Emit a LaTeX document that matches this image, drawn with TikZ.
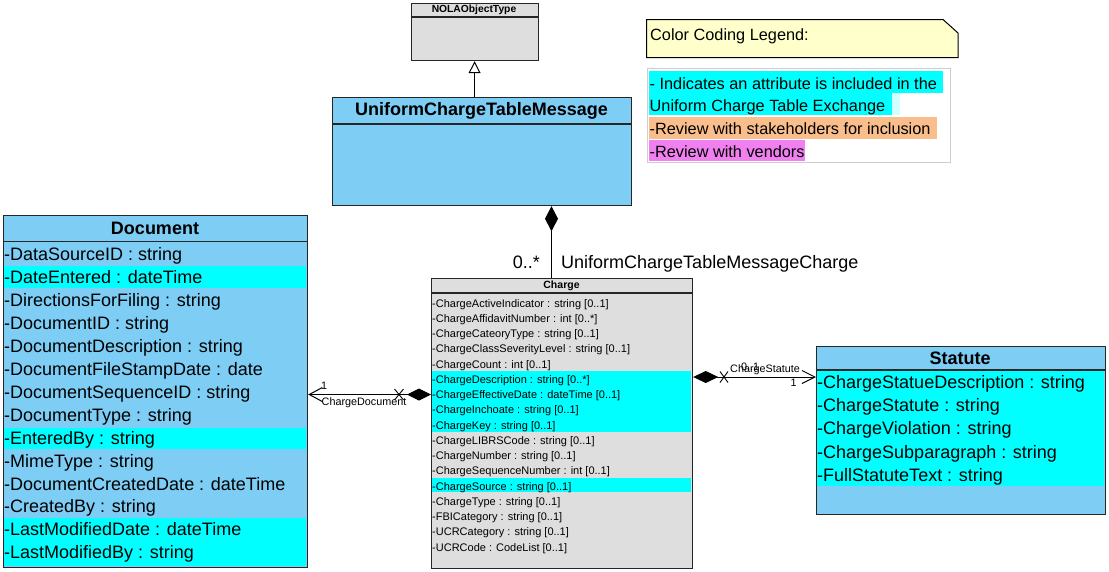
\documentclass[tikz,border=0pt]{standalone}
\usepackage{fontspec}
\setmainfont{Liberation Sans}
\usetikzlibrary{arrows.meta}
\definecolor{umlblue}{RGB}{125,205,245}
\definecolor{umlcyan}{RGB}{0,255,255}
\definecolor{umlgrey}{RGB}{222,222,222}
\definecolor{notey}{RGB}{255,255,204}
\definecolor{revorange}{RGB}{250,190,140}
\definecolor{revviolet}{RGB}{240,128,240}
\definecolor{palecyan}{RGB}{210,255,255}
\definecolor{legborder}{RGB}{205,205,205}
\begin{document}
\begin{tikzpicture}[x=1pt,y=-1pt,
  classbox/.style={draw=black!85, line width=1.2pt, inner sep=0pt, anchor=north west},
  big/.style={font=\fontsize{18}{20}\selectfont, inner sep=0pt, anchor=base west},
  bigb/.style={font=\fontsize{18}{20}\selectfont\bfseries, inner sep=0pt},
  smallrow/.style={font=\fontsize{11}{12}\selectfont, inner sep=0pt, anchor=base west},
  lab/.style={font=\fontsize{10.8}{12}\selectfont, inner sep=0pt, anchor=base west},
  leg/.style={font=\fontsize{16.3}{18}\selectfont, inner sep=0pt, anchor=base west},
  conn/.style={line width=1pt, draw=black},
  hdr/.style={line width=1.2pt, draw=black!85}
]
\useasboundingbox (0,0) rectangle (1109,571);
\fill[white] (0,0) rectangle (1109,571);

% ---------- NOLAObjectType ----------
\node[classbox, fill=umlgrey, minimum width=127pt, minimum height=57.5pt] (nola) at (410.5,2.5) {};
\draw[hdr] (nola.north west) ++(0,14.5) -- +(127,0);
\node[font=\fontsize{10.3}{12}\selectfont\bfseries, inner sep=0pt] (nolat) at (474,10) {NOLAObjectType};

% ---------- UniformChargeTableMessage ----------
\node[classbox, fill=umlblue, minimum width=299pt, minimum height=108pt] (uctm) at (332,97) {};
\draw[hdr] (uctm.north west) ++(0,27) -- +(299,0);
\node[bigb] (uctmt) at (481.5,110.5) {UniformChargeTableMessage};

% ---------- Document ----------
\node[classbox, fill=umlblue, minimum width=304pt, minimum height=352pt] (doc) at (3,214.5) {};
\fill[umlcyan] (3.6,265.5) rectangle (306.4,287.5);
\fill[umlcyan] (3.6,427.5) rectangle (306.4,449);
\fill[umlcyan] (3.6,518) rectangle (306.4,566);
\draw[hdr] (doc.north west) ++(0,27) -- +(304,0);
\node[bigb] (doct) at (155,228) {Document};
\foreach \t [count=\i from 0] in {{-DataSourceID : string},{-DateEntered : dateTime},{-DirectionsForFiling : string},{-DocumentID : string},{-DocumentDescription : string},{-DocumentFileStampDate : date},{-DocumentSequenceID : string},{-DocumentType : string},{-EnteredBy : string},{-MimeType : string},{-DocumentCreatedDate : dateTime},{-CreatedBy : string},{-LastModifiedDate : dateTime},{-LastModifiedBy : string}}
  \node[big] (doc-r\i) at (4,{260.5+\i*22.95}) {\t};

% ---------- Charge ----------
\node[classbox, fill=umlgrey, minimum width=261pt, minimum height=290pt] (chg) at (431,278) {};
\fill[umlcyan] (431.6,370.5) rectangle (691.4,431.5);
\fill[umlcyan] (431.6,477.5) rectangle (691.4,491.5);
\draw[hdr] (chg.north west) ++(0,15) -- +(261,0);
\node[font=\fontsize{10.5}{12}\selectfont\bfseries, inner sep=0pt] (chgt) at (561.5,285.5) {Charge};
\foreach \t [count=\i from 0] in {{-ChargeActiveIndicator : string [0..1]},{-ChargeAffidavitNumber : int [0..*]},{-ChargeCateoryType : string [0..1]},{-ChargeClassSeverityLevel : string [0..1]},{-ChargeCount : int [0..1]},{-ChargeDescription : string [0..*]},{-ChargeEffectiveDate : dateTime [0..1]},{-ChargeInchoate : string [0..1]},{-ChargeKey : string [0..1]},{-ChargeLIBRSCode : string [0..1]},{-ChargeNumber : string [0..1]},{-ChargeSequenceNumber : int [0..1]},{-ChargeSource : string [0..1]},{-ChargeType : string [0..1]},{-FBICategory : string [0..1]},{-UCRCategory : string [0..1]},{-UCRCode : CodeList [0..1]}}
  \node[smallrow] (chg-r\i) at (432,{307+\i*15.25}) {\t};

% ---------- Statute ----------
\node[classbox, fill=umlblue, minimum width=289pt, minimum height=168.5pt] (stat) at (816,345.5) {};
\fill[umlcyan] (816.6,371) rectangle (1104.4,485.5);
\draw[hdr] (stat.north west) ++(0,24.5) -- +(289,0);
\node[bigb] (statt) at (960,358) {Statute};
\foreach \t [count=\i from 0] in {{-ChargeStatueDescription : string},{-ChargeStatute : string},{-ChargeViolation : string},{-ChargeSubparagraph : string},{-FullStatuteText : string}}
  \node[big] (stat-r\i) at (817,{388.5+\i*23.2}) {\t};

% ---------- Legend ----------
\draw[fill=notey, line width=1pt] (646.5,19.5) -- (943,19.5) -- (958,33) -- (958,57.5) -- (646.5,57.5) -- cycle;
\node[leg] (legt) at (650,40.5) {Color Coding Legend:};
\node[draw=legborder, fill=white, line width=1pt, inner sep=0pt, anchor=north west, minimum width=302.5pt, minimum height=93.5pt] (legbox) at (647,68) {};
\fill[umlcyan] (649,71) rectangle (943,93);
\fill[umlcyan] (649,93) rectangle (892,115);
\fill[palecyan] (892,93) rectangle (900,115);
\fill[revorange] (649,117) rectangle (937,139);
\fill[revviolet] (649,140) rectangle (805,160.5);
\node[leg] (leg1) at (649.5,89) {- Indicates an attribute is included in the};
\node[leg] (leg2) at (649.5,111) {Uniform Charge Table Exchange};
\node[leg] (leg3) at (649.5,134.5) {-Review with stakeholders for inclusion};
\node[leg] (leg4) at (649.5,157) {-Review with vendors};

% ---------- Connectors ----------
% generalization
\draw[conn, -{Triangle[open, fill=white, length=12pt, width=12pt]}] (uctm.north -| nola.south) -- (nola.south);
% composition UCTM -> Charge
\coordinate (cx) at (551.5,0);
\draw[conn, {Diamond[length=25pt, width=13pt]}-] (uctm.south -| cx) -- (chg.north -| cx);
\node[font=\fontsize{18}{20}\selectfont, inner sep=0pt, anchor=base east] (m1) at (540,268) {0..*};
\node[big] (a1) at (561,268) {UniformChargeTableMessageCharge};
% Charge -> Document
\coordinate (dc) at (0,394.5);
\draw[conn, {Diamond[length=24pt, width=12pt]}-{Straight Barb[length=13pt, width=14pt]}] (chg.west |- dc) -- (doc.east |- dc);
\coordinate (xd) at (399,394.5);
\draw[line width=0.9pt] ([shift={(-4.5,-5.5)}]xd) -- ([shift={(4.5,5.5)}]xd);
\draw[line width=0.9pt] ([shift={(-4.5,5.5)}]xd) -- ([shift={(4.5,-5.5)}]xd);
\node[lab] (m2) at (321,389.5) {1};
\node[lab] (a2) at (321.5,405.5) {ChargeDocument};
% Charge -> Statute
\coordinate (cs) at (0,377);
\draw[conn, {Diamond[length=25pt, width=12pt]}-{Straight Barb[length=13pt, width=13pt]}] (chg.east |- cs) -- (stat.west |- cs);
\coordinate (xs) at (724,377);
\draw[line width=0.9pt] ([shift={(-4,-5.5)}]xs) -- ([shift={(4,5.5)}]xs);
\draw[line width=0.9pt] ([shift={(-4,5.5)}]xs) -- ([shift={(4,-5.5)}]xs);
\node[lab] (m3) at (741,370) {0..1};
\node[lab] (a3) at (730,372) {ChargeStatute};
\node[lab] (m4) at (790.5,386.5) {1};
\end{tikzpicture}
\end{document}
